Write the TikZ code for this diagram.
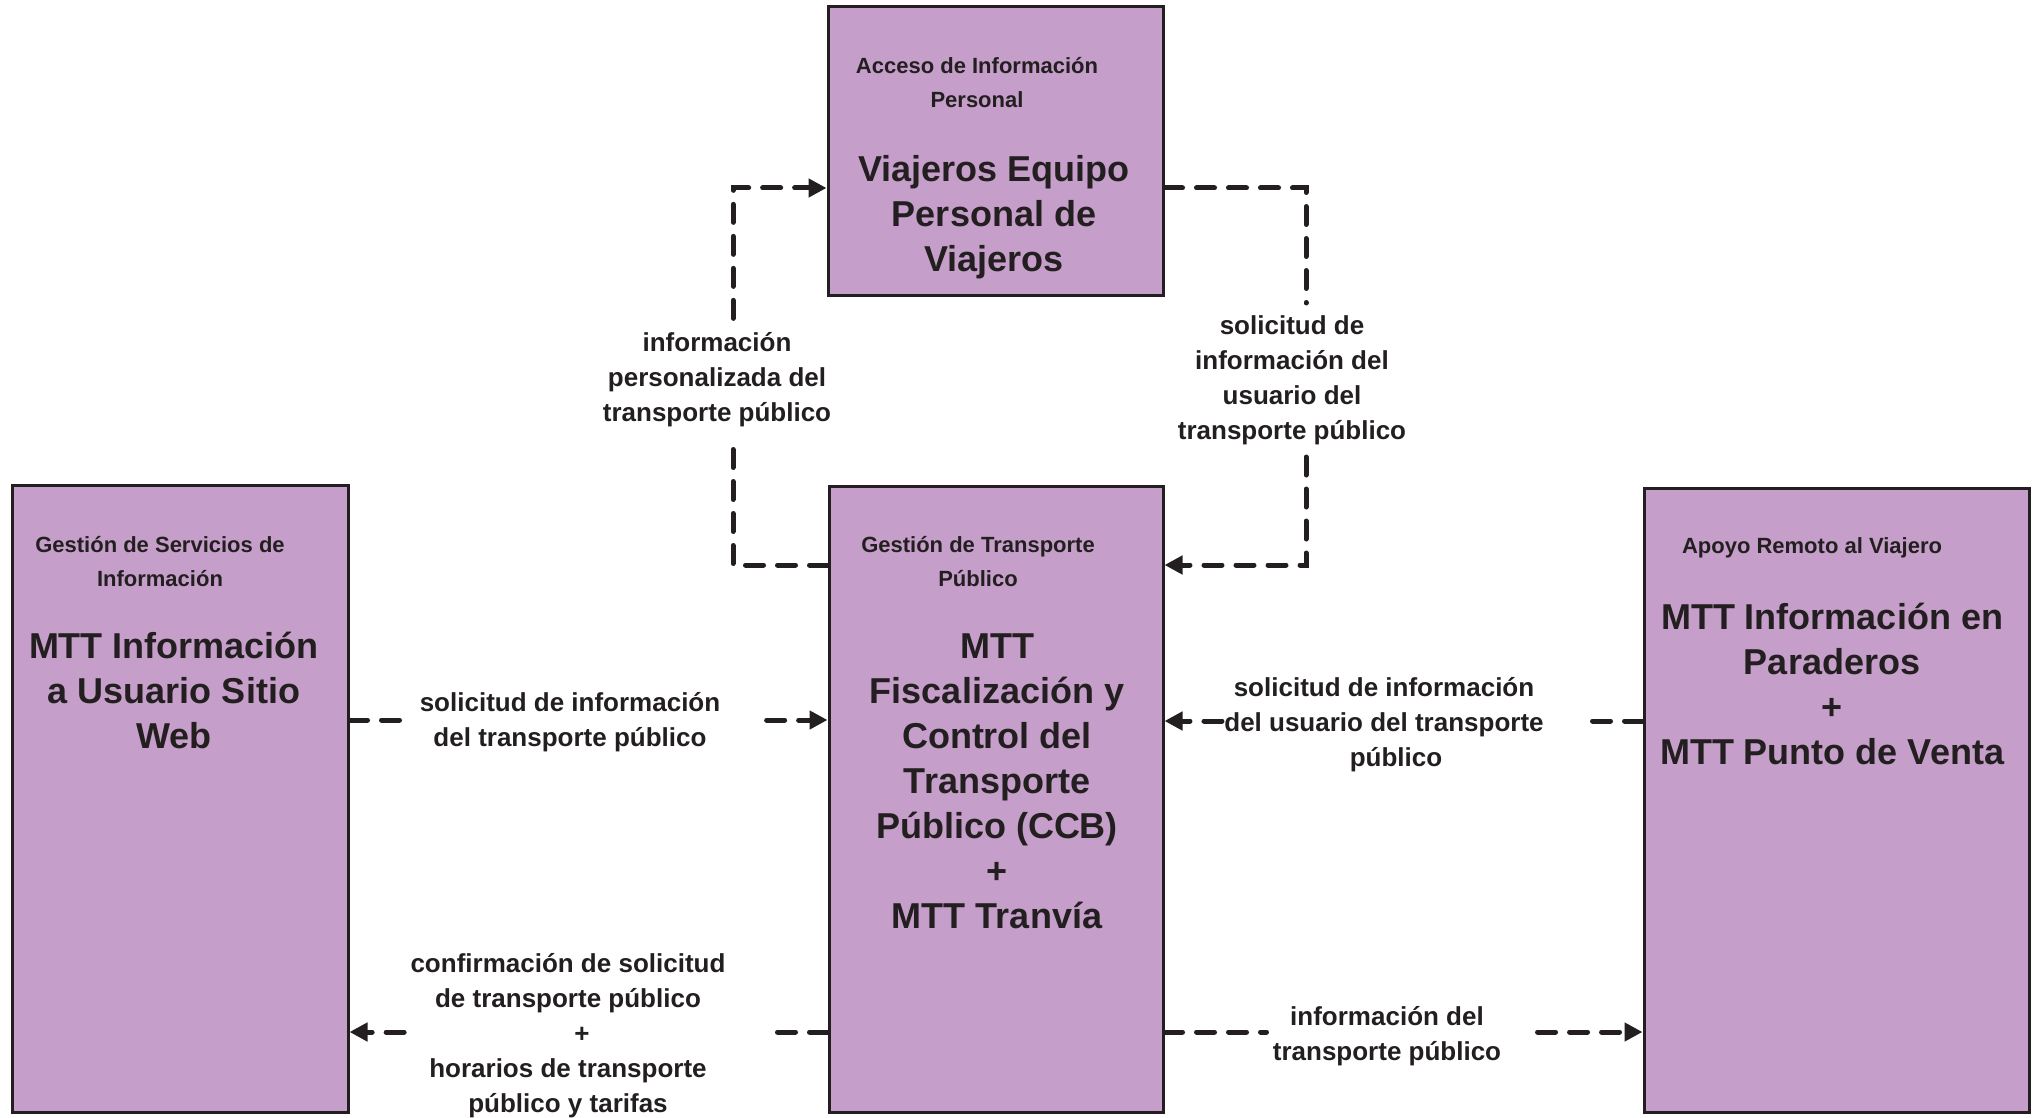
\documentclass[tikz,border=0pt]{standalone}
\usepackage{fontspec}
\setmainfont{Liberation Sans}
\usetikzlibrary{arrows.meta,calc}
\definecolor{boxfill}{HTML}{C59FC9}
\definecolor{ink}{HTML}{231F20}
\begin{document}
\begin{tikzpicture}[x=0.5pt,y=-0.5pt,
 box/.style={draw=ink, line width=1.5pt, fill=boxfill, inner sep=0pt},
 ttl/.style={font=\fontsize{11}{17}\selectfont\bfseries, text=ink, align=center, inner sep=0pt},
 nm/.style={font=\fontsize{18}{22.5}\selectfont\bfseries, text=ink, align=center, inner sep=0pt},
 lbl/.style={font=\fontsize{13}{17.5}\selectfont\bfseries, text=ink, align=center, inner xsep=3pt, inner ysep=5pt},
 conn/.style={draw=ink, line width=2.5pt, line cap=round, dash pattern=on 9pt off 7pt},
 tip/.style={-{Triangle[length=9pt,width=9pt]}}]
\useasboundingbox[fill=white] (0,0) rectangle (2039,1118);

% boxes
\node[box, minimum width=167.5pt, minimum height=144pt] (top) at (995.5,151) {};
\node[box, minimum width=168pt, minimum height=313.5pt] (left) at (180,798.5) {};
\node[box, minimum width=167pt, minimum height=313pt] (center) at (996,799) {};
\node[box, minimum width=192.5pt, minimum height=312pt] (right) at (1836.5,800) {};

% box texts
\node[ttl] (topT) at (977,83) {Acceso de Información\\Personal};
\node[nm] (topN) at (994,217) {Viajeros Equipo\\Personal de\\Viajeros};
\node[ttl] (leftT) at (160,562) {Gestión de Servicios de\\Información};
\node[nm] (leftN) at (174,690) {MTT Información\\a Usuario Sitio\\Web};
\node[ttl] (centerT) at (978,562) {Gestión de Transporte\\Público};
\node[nm] (centerN) at (997,781) {MTT\\Fiscalización y\\Control del\\Transporte\\Público (CCB)\\+\\MTT Tranvía};
\node[ttl] (rightT) at (1812,548) {Apoyo Remoto al Viajero};
\node[nm] (rightN) at (1832,684) {MTT Información en\\Paraderos\\+\\MTT Punto de Venta};

% labels
\node[lbl, inner ysep=7pt] (L1) at (717,380) {información\\personalizada del\\transporte público};
\node[lbl, inner ysep=6pt] (L2) at (1292,380) {solicitud de\\información del\\usuario del\\transporte público};
\node[lbl] (L3) at (570,722) {solicitud de información\\del transporte público};
\node[lbl, inner xsep=1pt] (L4) at (1384,725) {solicitud de información\\del usuario del transporte\\\hspace*{12pt}público};
\node[lbl] (L5) at (568,1036) {confirmación de solicitud\\de transporte público\\\hspace*{14pt}+\\horarios de transporte\\público y tarifas};
\node[lbl] (L6) at (1387,1036) {información del\\transporte público};

% corner coordinates
\coordinate (k1) at (733,565);
\coordinate (k2) at (733,188);
\coordinate (k3) at (1306,188);
\coordinate (k4) at (1306,565);
\coordinate (y3) at (0,720);
\coordinate (y4) at (0,721);
\coordinate (y5) at (0,1032);

% connectors
\draw[conn] (center.west |- k1) -- (k1) -- (L1.south -| k1);
\draw[conn,tip] (L1.north -| k1) -- (k2) -- (top.west |- k2);

\draw[conn] (top.east |- k3) -- (k3) -- (L2.north -| k3);
\draw[conn,tip] (L2.south -| k3) -- (k4) -- (center.east |- k4);

\draw[conn] (left.east |- y3) -- (L3.west |- y3);
\draw[conn,tip] ($(L3.east |- y3)+(40,0)$) -- (center.west |- y3);

\draw[conn] (right.west |- y4) -- ($(L4.east |- y4)+(45,0)$);
\draw[conn,tip] (L4.west |- y4) -- (center.east |- y4);

\draw[conn] (center.west |- y5) -- ($(L5.east |- y5)+(45,0)$);
\draw[conn,tip] (L5.west |- y5) -- (left.east |- y5);

\draw[conn] (center.east |- y5) -- (L6.west |- y5);
\draw[conn,tip] ($(L6.east |- y5)+(30,0)$) -- (right.west |- y5);
\end{tikzpicture}
\end{document}
